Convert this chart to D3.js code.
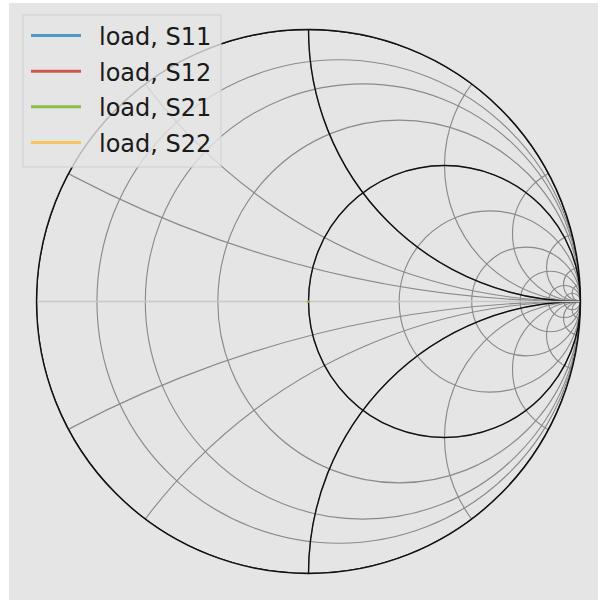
<!DOCTYPE html>
<html>
<head>
<meta charset="utf-8">
<script src="https://cdn.jsdelivr.net/npm/d3@7"></script>
<style>
  body { margin: 0; background: #fff; }
  svg { display: block; }
</style>
</head>
<body>
<svg id="smith" width="598" height="600"></svg>
<script>
const width = 598, height = 600;
const svg = d3.select("#smith");

// constant resistance / reactance contours (impedance chart)
const rLightList = [0.125, 0.25, 0.5, 1, 2, 4, 8, 16, 32];
const xLightList = [0.25, 0.5, 1, 2, 4, 8, 16, 32, -0.25, -0.5, -1, -2, -4, -8, -16, -32];
const rHeavyList = [0, 1];
const xHeavyList = [1, -1];

// legend / series
const seriesNames = ["load, S11", "load, S12", "load, S21", "load, S22"];
const seriesColors = ["#4f97c8", "#c65c47", "#8dbd48", "#f8c462"];
// reflection coefficient points [re, im]
const seriesValues = [
  [],
  [],
  [[-0.004, 0], [0.004, 0]],
  []
];

// axes box
svg.append("rect")
  .attr("x", 9).attr("y", 3)
  .attr("width", width - 9).attr("height", height - 3)
  .attr("fill", "#e5e5e5");

const x = d3.scaleLinear().domain([-1, 1]).range([36.5, 580.5]);
const y = d3.scaleLinear().domain([-1, 1]).range([573.5, 29.5]);
const k = x(1) - x(0); // px per unit

const defs = svg.append("defs");
defs.append("clipPath").attr("id", "clipc")
  .append("circle")
  .attr("cx", x(0)).attr("cy", y(0)).attr("r", k);

const g = svg.append("g").attr("clip-path", "url(#clipc)");

function contours(cls, rList, xList, color, lw) {
  g.selectAll("circle.r" + cls)
    .data(rList)
    .join("circle")
      .attr("class", "r" + cls)
      .attr("cx", r => x(r / (1 + r)))
      .attr("cy", y(0))
      .attr("r", r => k / (1 + r))
      .attr("fill", "none")
      .attr("stroke", color)
      .attr("stroke-width", lw);

  g.selectAll("circle.x" + cls)
    .data(xList)
    .join("circle")
      .attr("class", "x" + cls)
      .attr("cx", x(1))
      .attr("cy", v => y(1 / v))
      .attr("r", v => k / Math.abs(v))
      .attr("fill", "none")
      .attr("stroke", color)
      .attr("stroke-width", lw);
}

contours("l", rLightList, xLightList, "#8a8a8a", 1.15);
contours("h", rHeavyList, xHeavyList, "#111", 1.4);

// outer circle
svg.append("circle")
  .attr("cx", x(0)).attr("cy", y(0)).attr("r", k)
  .attr("fill", "none")
  .attr("stroke", "#111")
  .attr("stroke-width", 1.4);

// real axis (very thin)
g.append("line")
  .attr("x1", x(-1)).attr("x2", x(1))
  .attr("y1", y(0)).attr("y2", y(0))
  .attr("stroke", "#c8c8c8")
  .attr("stroke-width", 1.3);

// data lines
const line = d3.line().x(d => x(d[0])).y(d => y(d[1]));
svg.selectAll("path.series")
  .data(seriesValues)
  .join("path")
    .attr("class", "series")
    .attr("d", d => d.length ? line(d) : null)
    .attr("fill", "none")
    .attr("stroke", (d, i) => seriesColors[i])
    .attr("stroke-width", 2)
    .attr("stroke-linecap", "round");

// legend
const legend = svg.append("g");
legend.append("rect")
  .attr("x", 23).attr("y", 15)
  .attr("width", 198).attr("height", 152)
  .attr("fill", "#e5e5e5").attr("fill-opacity", 0.8)
  .attr("stroke", "#cfcfcf").attr("stroke-width", 1);

const rowY = d3.scaleLinear().domain([0, 3]).range([35.5, 142.5]);
const items = legend.selectAll("g.item")
  .data(seriesNames)
  .join("g")
    .attr("class", "item")
    .attr("transform", (d, i) => `translate(0,${rowY(i)})`);

items.append("line")
  .attr("x1", 31).attr("x2", 81)
  .attr("stroke", (d, i) => seriesColors[i])
  .attr("stroke-width", 3);

items.append("text")
  .attr("x", 99).attr("y", 9.5)
  .attr("font-family", "DejaVu Sans")
  .attr("font-size", 24)
  .attr("fill", "#1a1a1a")
  .text(d => d);
</script>
</body>
</html>
